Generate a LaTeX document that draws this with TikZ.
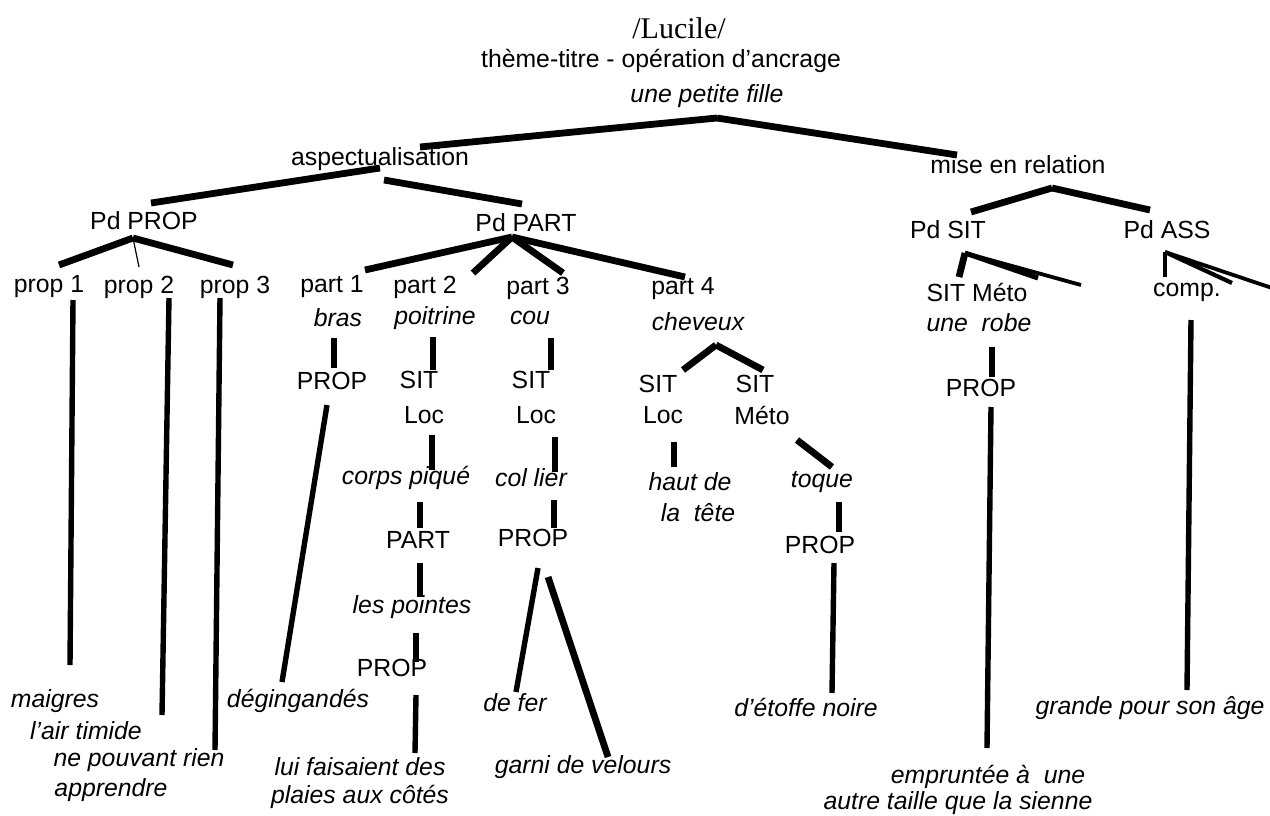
\documentclass[tikz,border=0pt]{standalone}
\usepackage{fontspec}
\setmainfont{Liberation Sans}
\newfontfamily\lucfont{Liberation Serif}
\tikzset{
  br/.style={line width=3.4pt},
  midbr/.style={line width=1.9pt},
  thinbr/.style={line width=0.6pt},
  stem/.style={line width=2.7pt},
  lab/.style={inner sep=0pt, font=\fontsize{12.4}{15}\selectfont},
  itlab/.style={inner sep=0pt, font=\fontsize{12.4}{15}\selectfont\itshape},
}
\newcommand{\branch}[3][]{ \draw[br,#1] (#2) -- (#3);}

\begin{document}
\begin{tikzpicture}[x=0.5pt, y=-0.5pt]
        \useasboundingbox (0,0) rectangle (1270,815);

        % title
        \node[lab, font=\fontsize{15}{18}\selectfont\lucfont] (lucile) at (679,28) {/Lucile/};
        \node[lab] (theme) at (661,61) {thème-titre - opération d’ancrage};
        \node[itlab] (fille) at (707,96) {une petite fille};

        % level 1 and 2
        \node[lab] (asp) at (380,159) {aspectualisation};
        \node[lab] (mer) at (1018,165) {mise en relation};
        \node[lab] (pdprop) at (144,221) {Pd PROP};
        \node[lab] (pdpart) at (526,223) {Pd PART};
        \node[lab] (pdsit) at (948,230) {Pd SIT};
        \node[lab] (pdass) at (1167,230) {Pd ASS};

        % level 3
        \node[lab] (prop1) at (49,287) {prop 1};
        \node[lab] (prop2) at (139,287) {prop 2};
        \node[lab] (prop3) at (235,287) {prop 3};
        \node[lab] (part1) at (332,287) {part 1};
        \node[lab] (part2) at (425,287) {part 2};
        \node[lab] (part3) at (538,288) {part 3};
        \node[lab] (part4) at (683,289) {part 4};
        \node[lab] (sitmeto) at (977,292) {SIT Méto};
        \node[lab] (comp) at (1187,292) {comp.};
        \node[itlab] (bras) at (338,318) {bras};
        \node[itlab] (poitrine) at (435,318) {poitrine};
        \node[itlab] (cou) at (530,318) {cou};
        \node[itlab] (cheveux) at (698,322) {cheveux};
        \node[itlab] (robe) at (979,323) {une~ robe};

        % level 4
        \node[lab] (propA) at (332,381) {PROP};
        \node[lab] (sitB) at (419,380) {SIT};
        \node[lab] (locB) at (424,415) {Loc};
        \node[lab] (sitC) at (531,380) {SIT};
        \node[lab] (locC) at (536,415) {Loc};
        \node[lab] (sitD) at (658,384) {SIT};
        \node[lab] (locD) at (663,415) {Loc};
        \node[lab] (sitE) at (755,384) {SIT};
        \node[lab] (metoE) at (762,415) {Méto};
        \node[lab] (propR) at (981,388) {PROP};
        \node[itlab] (corps) at (406,478) {corps piqué};
        \node[itlab] (collier) at (531,478) {col lier};
        \node[itlab] (haut) at (690,482) {haut de};
        \node[itlab] (tete) at (698,513) {la~ tête};
        \node[itlab] (toque) at (822,482) {toque};
        \node[lab] (partB) at (418,540) {PART};
        \node[lab] (propC) at (533,538) {PROP};
        \node[lab] (propE) at (820,545) {PROP};
        \node[itlab] (pointes) at (412,607) {les pointes};
        \node[lab] (propB) at (392,668) {PROP};

        % leaves
        \node[itlab] (maigres) at (55,701) {maigres};
        \node[itlab] (timide) at (86,731) {l’air timide};
        \node[itlab] (pouvant) at (139,760) {ne pouvant rien};
        \node[itlab] (apprendre) at (111,790) {apprendre};
        \node[itlab] (deging) at (298,701) {dégingandés};
        \node[itlab] (defer) at (515,703) {de fer};
        \node[itlab] (etoffe) at (806,707) {d’étoffe noire};
        \node[itlab] (grande) at (1150,708) {grande pour son âge};
        \node[itlab] (lui) at (360,767) {lui faisaient des};
        \node[itlab] (plaies) at (360,797) {plaies aux côtés};
        \node[itlab] (garni) at (583,767) {garni de velours};
        \node[itlab] (emprunt) at (988,777) {empruntée à~ une};
        \node[itlab] (autre) at (958,803) {autre taille que la sienne};

        % junctions
        \coordinate (top) at (717,118);
        \coordinate (mer-j) at (1052,188);
        \coordinate (pdprop-j) at (133,238);
        \coordinate (pdpart-j) at (512,237);
        \coordinate (pdsit-j) at (965,253);
        \coordinate (pdass-j) at (1165,252);
        \coordinate (cheveux-j) at (716,345);

        % line ends
        \coordinate (asp-in) at (420,147);
        \coordinate (mer-in) at (957,155);
        \coordinate (asp-l) at (380,168);
        \coordinate (asp-r) at (384,180);
        \coordinate (pdprop-in) at (151,203);
        \coordinate (pdpart-in) at (522,204);
        \coordinate (pdsit-in) at (971,212);
        \coordinate (pdass-in) at (1150,210);
        \coordinate (prop1-in) at (59,265);
        \coordinate (prop2-in) at (139,267);
        \coordinate (prop3-in) at (233,265);
        \coordinate (part1-in) at (365,270);
        \coordinate (part2-in) at (473,273);
        \coordinate (part3-in) at (563,273);
        \coordinate (part4-in) at (685,277);
        \coordinate (sitmeto-in) at (959,277);
        \coordinate (pdsit-a) at (1038,278);
        \coordinate (pdsit-b) at (1081,285);
        \coordinate (comp-in) at (1165,277);
        \coordinate (pdass-a) at (1232,283);
        \coordinate (pdass-b) at (1272,288);
        \coordinate (sitD-in) at (683,370);
        \coordinate (sitE-in) at (763,370);

        \coordinate (prop1-out) at (73,300);    \coordinate (maigres-in) at (70,665);
        \coordinate (prop2-out) at (169,298);   \coordinate (timide-in) at (162,715);
        \coordinate (prop3-out) at (220,298);   \coordinate (pouvant-in) at (215,750);
        \coordinate (bras-out) at (334,338);    \coordinate (propA-in) at (334,368);
        \coordinate (propA-out) at (327,405);   \coordinate (deging-in) at (282,682);
        \coordinate (poitrine-out) at (433,337);\coordinate (sitB-in) at (433,370);
        \coordinate (locB-out) at (432,435);    \coordinate (corps-in) at (432,470);
        \coordinate (corps-out) at (420,502);   \coordinate (partB-in) at (420,528);
        \coordinate (partB-out) at (420,563);   \coordinate (pointes-in) at (420,597);
        \coordinate (pointes-out) at (416,633); \coordinate (propB-in) at (416,662);
        \coordinate (propB-out) at (416,695);   \coordinate (lui-in) at (415,753);
        \coordinate (cou-out) at (551,338);     \coordinate (sitC-in) at (551,370);
        \coordinate (locC-out) at (555,437);    \coordinate (collier-in) at (555,472);
        \coordinate (collier-out) at (554,500); \coordinate (propC-in) at (554,528);
        \coordinate (propC-l) at (538,568);     \coordinate (defer-in) at (516,692);
        \coordinate (propC-r) at (548,577);     \coordinate (garni-in) at (608,757);
        \coordinate (locD-out) at (674,442);    \coordinate (haut-in) at (674,467);
        \coordinate (metoE-out) at (797,440);   \coordinate (toque-in) at (832,467);
        \coordinate (toque-out) at (839,502);   \coordinate (propE-in) at (839,532);
        \coordinate (propE-out) at (834,563);   \coordinate (etoffe-in) at (832,693);
        \coordinate (robe-out) at (992,347);    \coordinate (propR-in) at (992,377);
        \coordinate (propR-out) at (991,407);   \coordinate (emprunt-in) at (987,748);
        \coordinate (comp-out) at (1191,320);   \coordinate (grande-in) at (1187,690);

        % top of the tree
        \branch{asp-in}{top}
        \branch{top}{mer-in}
        \branch{asp-l}{pdprop-in}
        \branch{asp-r}{pdpart-in}
        \branch{mer-j}{pdsit-in}
        \branch{mer-j}{pdass-in}

        % Pd PROP
        \branch{pdprop-j}{prop1-in}
        \branch{pdprop-j}{prop3-in}
        \branch[thinbr]{pdprop-j}{prop2-in}
        \branch[stem]{prop1-out}{maigres-in}
        \branch[stem]{prop2-out}{timide-in}
        \branch[stem]{prop3-out}{pouvant-in}

        % Pd PART
        \branch{pdpart-j}{part1-in}
        \branch{pdpart-j}{part2-in}
        \branch{pdpart-j}{part3-in}
        \branch{pdpart-j}{part4-in}
        \branch[stem]{bras-out}{propA-in}
        \branch[stem]{propA-out}{deging-in}
        \branch[stem]{poitrine-out}{sitB-in}
        \branch[stem]{locB-out}{corps-in}
        \branch[stem]{corps-out}{partB-in}
        \branch[stem]{partB-out}{pointes-in}
        \branch[stem]{pointes-out}{propB-in}
        \branch[stem]{propB-out}{lui-in}
        \branch[stem]{cou-out}{sitC-in}
        \branch[stem]{locC-out}{collier-in}
        \branch[stem]{collier-out}{propC-in}
        \branch[stem]{propC-l}{defer-in}
        \branch{propC-r}{garni-in}
        \branch{cheveux-j}{sitD-in}
        \branch{cheveux-j}{sitE-in}
        \branch[stem]{locD-out}{haut-in}
        \branch{metoE-out}{toque-in}
        \branch[stem]{toque-out}{propE-in}
        \branch[stem]{propE-out}{etoffe-in}

        % Pd SIT
        \branch{pdsit-j}{sitmeto-in}
        \branch[line width=2.5pt]{pdsit-j}{pdsit-a}
        \branch[midbr]{pdsit-j}{pdsit-b}
        \branch[stem]{robe-out}{propR-in}
        \branch[stem]{propR-out}{emprunt-in}

        % Pd ASS
        \branch[midbr]{pdass-j}{comp-in}
        \branch[line width=2.1pt]{pdass-j}{pdass-a}
        \branch[midbr]{pdass-j}{pdass-b}
        \branch[stem]{comp-out}{grande-in}
\end{tikzpicture}
\end{document}
